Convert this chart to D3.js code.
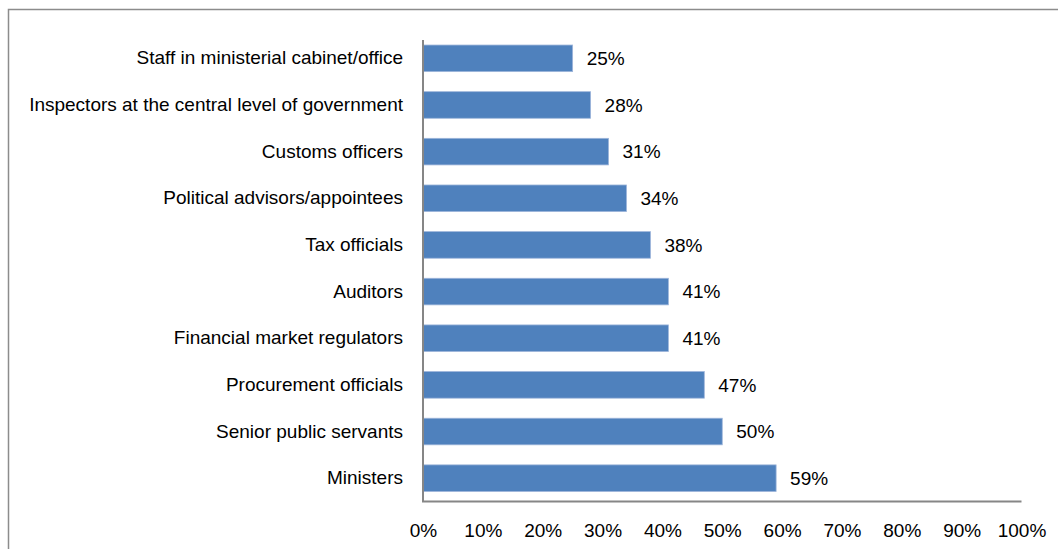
<!DOCTYPE html>
<html>
<head>
<meta charset="utf-8">
<script src="https://cdn.jsdelivr.net/npm/d3@7/dist/d3.min.js"></script>
<style>
  html, body { margin: 0; padding: 0; background: #fff; overflow: hidden; }
  svg { display: block; }
  text { font-family: "Liberation Sans", Arial, sans-serif; fill: #000; }
</style>
</head>
<body>
<svg id="chart" width="1058" height="549"></svg>
<script>
// Share of respondents per category of official
const categories = [
  "Staff in ministerial cabinet/office",
  "Inspectors at the central level of government",
  "Customs officers",
  "Political advisors/appointees",
  "Tax officials",
  "Auditors",
  "Financial market regulators",
  "Procurement officials",
  "Senior public servants",
  "Ministers"
];
const values = [25, 28, 31, 34, 38, 41, 41, 47, 50, 59];
const xTicks = [0, 10, 20, 30, 40, 50, 60, 70, 80, 90, 100];

const svg = d3.select("#chart");
const W = 1058, H = 549;
const plot = { left: 423, right: 1021.5, top: 35, bottom: 501.5 };
const fontSize = 19;
const fontFamily = '"Liberation Sans", Arial, sans-serif';

// outer chart frame (runs past the right and bottom edges)
svg.append("rect")
  .attr("x", 8.5).attr("y", 9.5)
  .attr("width", W + 20).attr("height", H + 20)
  .attr("fill", "none")
  .attr("stroke", "#8c8c8c")
  .attr("stroke-width", 1.5);

const x = d3.scaleLinear().domain([0, 100]).range([plot.left, plot.right]);
const y = d3.scaleBand().domain(categories).range([plot.top, plot.bottom]).paddingInner(0.43).paddingOuter(0.215);

const data = categories.map((c, i) => ({ category: c, value: values[i] }));

// bars
svg.append("g").selectAll("rect")
  .data(data)
  .join("rect")
  .attr("x", x(0))
  .attr("y", d => y(d.category))
  .attr("width", d => x(d.value) - x(0))
  .attr("height", y.bandwidth())
  .attr("fill", "#4f81bd")
  .attr("stroke", "#9db5da")
  .attr("stroke-width", 0.8);

// value labels
svg.append("g").selectAll("text")
  .data(data)
  .join("text")
  .attr("x", d => x(d.value) + 14)
  .attr("y", d => y(d.category) + y.bandwidth() / 2)
  .attr("dy", "0.35em")
  .style("font-size", fontSize + "px")
  .text(d => d.value + "%");

// category axis
const yAxis = svg.append("g")
  .attr("transform", `translate(${plot.left},0)`)
  .call(d3.axisLeft(y).tickSize(0).tickPadding(20));
yAxis.select(".domain").remove();
yAxis.selectAll("text")
  .style("font-size", fontSize + "px")
  .style("font-family", fontFamily);

// value axis (tick labels only)
const xAxis = svg.append("g")
  .attr("transform", `translate(0,${plot.bottom})`)
  .call(d3.axisBottom(x).tickValues(xTicks).tickFormat(d => d + "%").tickSize(0).tickPadding(22));
xAxis.select(".domain").remove();
xAxis.selectAll("text")
  .style("font-size", fontSize + "px")
  .style("font-family", fontFamily);

// axis lines
svg.append("line")
  .attr("x1", plot.left).attr("x2", plot.left)
  .attr("y1", plot.top + 5).attr("y2", plot.bottom)
  .attr("stroke", "#868686").attr("stroke-width", 2);
svg.append("line")
  .attr("x1", plot.left - 1).attr("x2", plot.right)
  .attr("y1", plot.bottom).attr("y2", plot.bottom)
  .attr("stroke", "#868686").attr("stroke-width", 2);
</script>
</body>
</html>
